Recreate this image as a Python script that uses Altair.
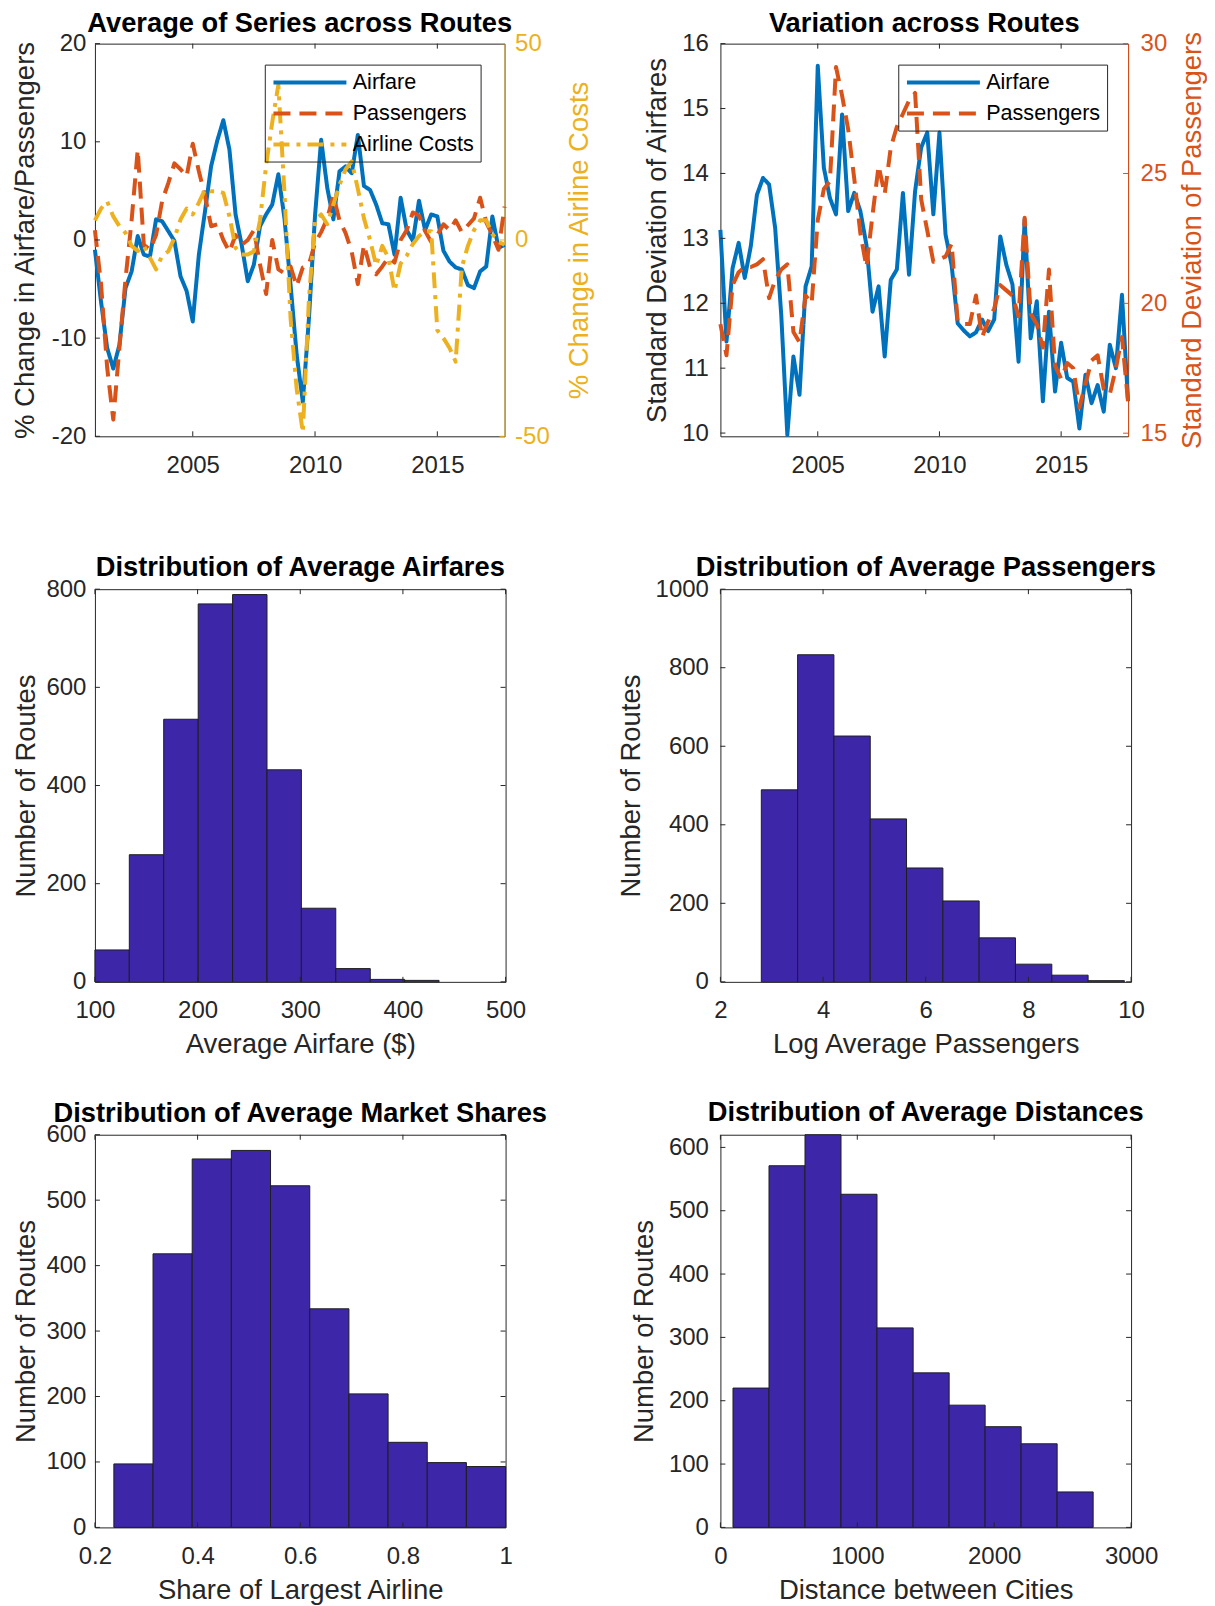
import altair as alt
import pandas as pd

# ---------------- data ----------------
quarters = [2001 + 0.25 * i for i in range(68)]

airfare_avg = [
    -1.0, -6.3, -11.0, -13.1,
    -10.7, -4.9, -3.2, 0.4,
    -1.5, -1.7, 2.1, 1.9,
    0.9, -0.1, -3.7, -5.2,
    -8.3, -1.5, 2.9, 7.5,
    10.1, 12.2, 9.2, 2.6,
    -0.5, -4.2, -2.5, 1.4,
    2.6, 3.6, 6.7, 2.2,
    -4.6, -11.7, -16.5, -8.0,
    2.5, 10.2, 5.3, 2.1,
    7.0, 7.5, 6.8, 10.7,
    5.5, 5.1, 3.6, 1.7,
    1.6, -1.5, 4.3, 1.0,
    -0.1, 4.0, 1.0, 2.6,
    2.4, -1.1, -2.2, -2.8,
    -3.0, -4.6, -4.9, -3.2,
    -2.7, 2.4, -0.8, -0.5,
]
passengers_avg = [
    1.0, -4.5, -13.0, -18.3,
    -11.0, -4.0, 2.0, 9.2,
    -0.5, -1.0, 0.5, 4.0,
    5.8, 7.8, 7.2, 6.5,
    9.8, 7.0, 4.5, 1.4,
    1.6, 0.0, -1.2, 0.5,
    -0.5, 0.0, 1.0, -2.5,
    -5.5, 0.0, -3.0, -3.4,
    -2.7, -4.7, -2.8, -2.5,
    -0.3, 0.8, 2.2, 4.5,
    2.0, 0.7, -1.2, -4.5,
    -0.5, -2.8, -3.5, -2.7,
    -1.8, -2.3, 0.0, 1.0,
    2.8, 2.5, 0.9, -0.2,
    0.5, 1.6, 1.0, 2.0,
    0.8, 1.5, 2.2, 4.3,
    1.8, 0.5, -1.0, 3.4,
]
costs_avg = [
    5.0, 8.0, 9.8, 6.0,
    3.5, 1.8, -1.5, -2.8,
    -1.5, -4.5, -7.5, -4.0,
    -2.9, 0.5, 5.2, 8.0,
    6.5, 9.5, 12.8, 12.4,
    12.4, 12.0, 6.0, -2.0,
    -3.7, -3.7, -2.9, 5.0,
    19.0, 30.0, 39.5, 12.0,
    -20.0, -38.0, -49.0, -15.0,
    5.0, 6.5, 4.0, 9.0,
    14.0, 18.0, 20.0, 13.0,
    5.5, 0.0, -6.5, -1.5,
    -4.5, -13.0, -6.0, -4.0,
    -1.0, 1.0, 2.2, 2.2,
    -23.0, -25.0, -27.5, -31.0,
    -7.0, -1.5, 2.5, 5.0,
    5.0, 1.5, -0.5, -1.2,
]
airfare_sd = [
    13.13, 11.41, 12.54, 12.93,
    12.39, 12.88, 13.67, 13.93,
    13.83, 13.16, 11.82, 9.97,
    11.18, 10.59, 12.26, 12.57,
    15.66, 14.09, 13.62, 13.37,
    14.91, 13.42, 13.70, 13.42,
    12.90, 11.87, 12.26, 11.18,
    12.36, 12.52, 13.70, 12.44,
    13.73, 14.40, 14.63, 13.37,
    14.63, 13.06, 12.59, 11.69,
    11.58, 11.49, 11.55, 11.75,
    11.57, 11.75, 13.03, 12.59,
    12.29, 11.10, 13.29, 11.46,
    12.03, 10.49, 11.87, 10.64,
    11.39, 10.85, 10.79, 10.07,
    10.90, 10.46, 10.74, 10.33,
    11.36, 11.00, 12.13, 10.49,
]
passengers_sd = [
    19.2, 18.0, 20.7, 21.2,
    21.4, 21.4, 21.5, 21.7,
    20.2, 20.9, 21.3, 21.5,
    18.9, 18.5, 20.3, 20.0,
    23.2, 24.4, 24.7, 29.1,
    28.0, 26.7, 24.8, 22.7,
    21.4, 23.4, 25.3, 24.2,
    26.0, 26.8, 27.3, 27.8,
    28.1, 24.0, 22.8, 21.6,
    21.7, 21.8, 22.3, 19.3,
    19.2, 19.2, 20.3, 18.7,
    19.3, 19.8, 20.7, 20.5,
    20.3, 19.5, 23.3, 19.6,
    19.2, 18.3, 21.3, 17.6,
    17.1, 17.7, 17.5, 16.0,
    16.9, 17.8, 18.0, 16.7,
    16.5, 17.5, 18.7, 16.2,
]

fare_edges = [100.0, 133.5, 167.0, 200.6, 234.1, 267.6, 301.1, 334.6, 368.2, 401.7, 435.2]
fare_counts = [65, 259, 535, 770, 789, 432, 150, 27, 5, 3]
pax_edges = [2.797, 3.504, 4.211, 4.919, 5.626, 6.334, 7.041, 7.748, 8.456, 9.163, 9.870]
pax_counts = [489, 833, 626, 415, 290, 206, 112, 45, 17, 3]
share_edges = [0.2369, 0.3132, 0.3895, 0.4658, 0.5421, 0.6185, 0.6948, 0.7711, 0.8474, 0.9237, 1.0]
share_counts = [97, 418, 563, 576, 522, 334, 204, 130, 99, 93]
dist_edges = [92, 355, 618, 881, 1144, 1408, 1671, 1934, 2197, 2460, 2723]
dist_counts = [220, 571, 620, 526, 315, 244, 193, 159, 132, 56]

year_ticks = [2005, 2010, 2015]

# ---------------- styling ----------------
H = 393
TL = 5
DARK = "#262626"
BLUE = "#0072BD"
ORANGE = "#D95319"
YELLOW = "#EDB120"
BAR = "#3E26A8"
FONT = "Liberation Sans"
LBL = "datum.value + ''"
DASHES = {"Airfare": [1, 0], "Passengers": [17, 9], "Airline Costs": [16, 7, 4, 7]}


def panel_title(text, offset):
    return alt.TitleParams(text, offset=offset)


def rules_x(values, xscale, xaxis, color=DARK):
    d = pd.DataFrame({"tick": values})
    ex = alt.X("tick:Q", scale=xscale, axis=xaxis)
    b = alt.Chart(d).mark_rule(color=color, strokeWidth=1).encode(
        x=ex, y=alt.value(H), y2=alt.value(H - TL))
    t = alt.Chart(d).mark_rule(color=color, strokeWidth=1).encode(
        x=ex, y=alt.value(0), y2=alt.value(TL))
    return [b, t]


def rules_y(values, yscale, yaxis, side, width, color=DARK):
    d = pd.DataFrame({"tick": values})
    ey = alt.Y("tick:Q", scale=yscale, axis=yaxis)
    x0, x1 = (0, TL) if side == "left" else (width, width - TL)
    return alt.Chart(d).mark_rule(color=color, strokeWidth=1).encode(
        y=ey, x=alt.value(x0), x2=alt.value(x1))


def make_legend(x, y):
    return alt.Legend(
        title=None, orient="none", legendX=x, legendY=y, direction="vertical",
        symbolType="M-0.93,0L6.37,0", symbolSize=400, symbolStrokeWidth=4,
        labelFont=FONT, labelFontSize=21.6, labelColor="black", labelOffset=58,
        labelLimit=400, padding=6, rowPadding=8, strokeColor=DARK,
    )


def line_panel(df, width, names, colors, left_names, right_names,
               ydom_l, yt_l, ytitle_l, lp_l, tp_l,
               ydom_r, yt_r, ytitle_r, rcolor, lp_r, tp_r, title, legend):
    xs = alt.Scale(domain=[2001, 2017.75], nice=False, zero=False)
    xax = alt.Axis(values=year_ticks, title=None, labelExpr=LBL)
    ys_l = alt.Scale(domain=ydom_l, nice=False, zero=False)
    yax_l = alt.Axis(values=yt_l, title=ytitle_l, labelExpr=LBL,
                     labelPadding=lp_l, titlePadding=tp_l)
    ys_r = alt.Scale(domain=ydom_r, nice=False, zero=False)
    yax_r = alt.Axis(values=yt_r, title=ytitle_r, labelExpr=LBL, orient="right",
                     labelColor=rcolor, titleColor=rcolor, domain=True,
                     domainColor=rcolor, domainWidth=1, titleAngle=270,
                     titleBaseline="top", labelPadding=lp_r, titlePadding=tp_r)
    col = alt.Color("series:N", scale=alt.Scale(domain=names, range=colors), legend=legend)
    dash = alt.StrokeDash("series:N",
                          scale=alt.Scale(domain=names, range=[DASHES[n] for n in names]),
                          legend=legend)

    def line(name, ys, yax):
        return alt.Chart(df).transform_filter(alt.datum.series == name).mark_line(
            strokeWidth=4, strokeJoin="round").encode(
            x=alt.X("year:Q", scale=xs, axis=xax),
            y=alt.Y("value:Q", scale=ys, axis=yax),
            color=col, strokeDash=dash)

    left = alt.layer(*[line(n, ys_l, yax_l) for n in left_names],
                     rules_y(yt_l, ys_l, yax_l, "left", width),
                     *rules_x(year_ticks, xs, xax))
    right = alt.layer(*[line(n, ys_r, yax_r) for n in right_names],
                      rules_y(yt_r, ys_r, yax_r, "right", width, color=rcolor))
    return alt.layer(left, right).resolve_scale(y="independent").properties(
        width=width, height=H, title=title)


def hist_panel(edges, counts, xdom, xt, ydom, yt, xtitle, title, lp, tp, width=411):
    d = pd.DataFrame({"start": edges[:-1], "end": edges[1:], "count": counts})
    xs = alt.Scale(domain=xdom, nice=False, zero=False)
    ys = alt.Scale(domain=ydom, nice=False, zero=False)
    xax = alt.Axis(values=xt, title=xtitle, labelExpr=LBL)
    yax = alt.Axis(values=yt, title="Number of Routes", labelExpr=LBL,
                   labelPadding=lp, titlePadding=tp)
    bars = alt.Chart(d).mark_rect(fill=BAR, stroke="#1e1e1e", strokeWidth=1).encode(
        x=alt.X("start:Q", scale=xs, axis=xax), x2="end:Q",
        y=alt.Y("count:Q", scale=ys, axis=yax), y2=alt.datum(0))
    return alt.layer(bars, *rules_x(xt, xs, xax), rules_y(yt, ys, yax, "left", width),
                     rules_y(yt, ys, yax, "right", width)).properties(
        width=width, height=H, title=title)


avg_df = pd.DataFrame({
    "year": quarters * 3,
    "value": airfare_avg + passengers_avg + costs_avg,
    "series": ["Airfare"] * 68 + ["Passengers"] * 68 + ["Airline Costs"] * 68,
})
sd_df = pd.DataFrame({
    "year": quarters * 2,
    "value": airfare_sd + passengers_sd,
    "series": ["Airfare"] * 68 + ["Passengers"] * 68,
})

# title offsets (panels whose top tick label overhangs the frame need a smaller offset)
OFF_TOP = -6
OFF_OVER = -4.5
OFF_FREE = 7.5

p1 = line_panel(avg_df, 410, ["Airfare", "Passengers", "Airline Costs"], [BLUE, ORANGE, YELLOW],
                ["Airfare", "Passengers"], ["Airline Costs"],
                [-20, 20], [-20, -10, 0, 10, 20], "% Change in Airfare/Passengers", 9, 11.5,
                [-50, 50], [-50, 0, 50], "% Change in Airline Costs", YELLOW, 10, 16,
                panel_title("Average of Series across Routes", OFF_TOP), make_legend(170, 21))
p2 = line_panel(sd_df, 408, ["Airfare", "Passengers"], [BLUE, ORANGE],
                ["Airfare"], ["Passengers"],
                [9.95, 16], [10, 11, 12, 13, 14, 15, 16], "Standard Deviation of Airfares", 12, 10,
                [14.88, 30], [15, 20, 25, 30], "Standard Deviation of Passengers", ORANGE, 12, 11.5,
                panel_title("Variation across Routes", OFF_TOP), make_legend(178, 21))

h1 = hist_panel(fare_edges, fare_counts, [100, 500], [100, 200, 300, 400, 500],
                [0, 800], [0, 200, 400, 600, 800], "Average Airfare ($)",
                panel_title("Distribution of Average Airfares", OFF_OVER), 9, 5.5)
h2 = hist_panel(pax_edges, pax_counts, [2, 10], [2, 4, 6, 8, 10],
                [0, 1000], [0, 200, 400, 600, 800, 1000], "Log Average Passengers",
                panel_title("Distribution of Average Passengers", OFF_OVER), 12, 10)
h3 = hist_panel(share_edges, share_counts, [0.2, 1.0], [0.2, 0.4, 0.6, 0.8, 1],
                [0, 600], [0, 100, 200, 300, 400, 500, 600], "Share of Largest Airline",
                panel_title("Distribution of Average Market Shares", OFF_OVER), 9, 5.5)
h4 = hist_panel(dist_edges, dist_counts, [0, 3000], [0, 1000, 2000, 3000],
                [0, 620], [0, 100, 200, 300, 400, 500, 600], "Distance between Cities",
                panel_title("Distribution of Average Distances", OFF_FREE), 12, 10)

chart = alt.concat(p1, p2, h1, h2, h3, h4, columns=2,
                   spacing={"row": 153, "column": 215}, bounds="flush").resolve_scale(
    color="independent", strokeDash="independent").resolve_legend(
    color="independent", strokeDash="independent").properties(
    padding={"left": 3, "top": 1, "right": 0, "bottom": 0})

chart = chart.configure_view(stroke=DARK, strokeWidth=1).configure_axis(
    grid=False, ticks=False, tickSize=0, domain=False, labelFlush=False, labelOverlap=False,
    labelFont=FONT, labelFontSize=24, labelColor=DARK,
    titleFont=FONT, titleFontSize=27.5, titleFontWeight="normal", titleColor=DARK,
).configure_axisX(labelPadding=17, titlePadding=8).configure_axisY(
    labelPadding=9, titlePadding=13).configure_title(
    font=FONT, fontSize=27.3, fontWeight="bold", color="black", anchor="middle",
    frame="group", baseline="bottom")

chart.save("out.html", embed_options={"renderer": "svg", "actions": False})
